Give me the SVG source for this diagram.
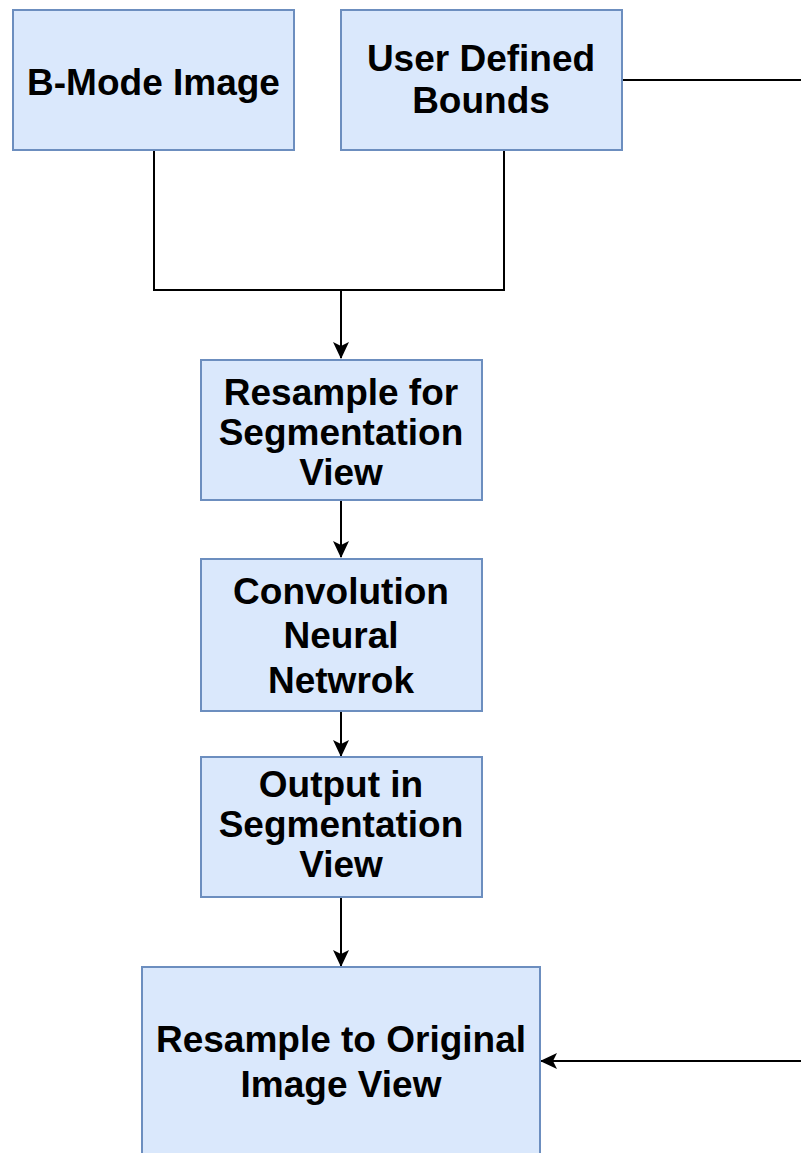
<svg xmlns="http://www.w3.org/2000/svg" width="801" height="1153" viewBox="0 0 801 1153">
<style>
.box{fill:#dae8fc;stroke:#6c8ebf;stroke-width:2}
.lbl{font-family:"Liberation Sans",Arial,sans-serif;font-weight:bold;font-size:37px;fill:#000;text-anchor:middle}
.edge{fill:none;stroke:#000;stroke-width:2}
</style>
<defs>
<marker id="arr" viewBox="0 0 17 16" refX="16" refY="8" markerWidth="17" markerHeight="16" markerUnits="userSpaceOnUse" orient="auto">
<path d="M0,0 L17,8 L0,16 L4,8 z" fill="#000"/>
</marker>
</defs>
<rect width="801" height="1153" fill="#fff"/>
<g id="connectors">
<path class="edge" d="M154,150 V290 H504 V150"/>
<path class="edge" d="M341,290 V358" marker-end="url(#arr)"/>
<path class="edge" d="M341,501 V557" marker-end="url(#arr)"/>
<path class="edge" d="M341,711 V756" marker-end="url(#arr)"/>
<path class="edge" d="M341,897 V966" marker-end="url(#arr)"/>
<path class="edge" d="M622,80 H801"/>
<path class="edge" d="M801,1061 H541" marker-end="url(#arr)"/>
</g>
<g id="bmode">
<rect class="box" x="13" y="10" width="281" height="140"/>
<text class="lbl" x="153.5" y="94.5">B-Mode Image</text>
</g>
<g id="bounds">
<rect class="box" x="341" y="10" width="281" height="140"/>
<text class="lbl" x="481" y="71">User Defined</text>
<text class="lbl" x="481" y="112.5">Bounds</text>
</g>
<g id="resample">
<rect class="box" x="201" y="360" width="281" height="140"/>
<text class="lbl" x="341" y="405">Resample for</text>
<text class="lbl" x="341" y="445">Segmentation</text>
<text class="lbl" x="341" y="485">View</text>
</g>
<g id="cnn">
<rect class="box" x="201" y="559" width="281" height="152"/>
<text class="lbl" x="341" y="604">Convolution</text>
<text class="lbl" x="341" y="648">Neural</text>
<text class="lbl" x="341" y="692.5">Netwrok</text>
</g>
<g id="output">
<rect class="box" x="201" y="757" width="281" height="140"/>
<text class="lbl" x="341" y="797">Output in</text>
<text class="lbl" x="341" y="837">Segmentation</text>
<text class="lbl" x="341" y="877">View</text>
</g>
<g id="original">
<rect class="box" x="142" y="967" width="398" height="200"/>
<text class="lbl" x="341" y="1051.5">Resample to Original</text>
<text class="lbl" x="341" y="1096.5">Image View</text>
</g>
</svg>
